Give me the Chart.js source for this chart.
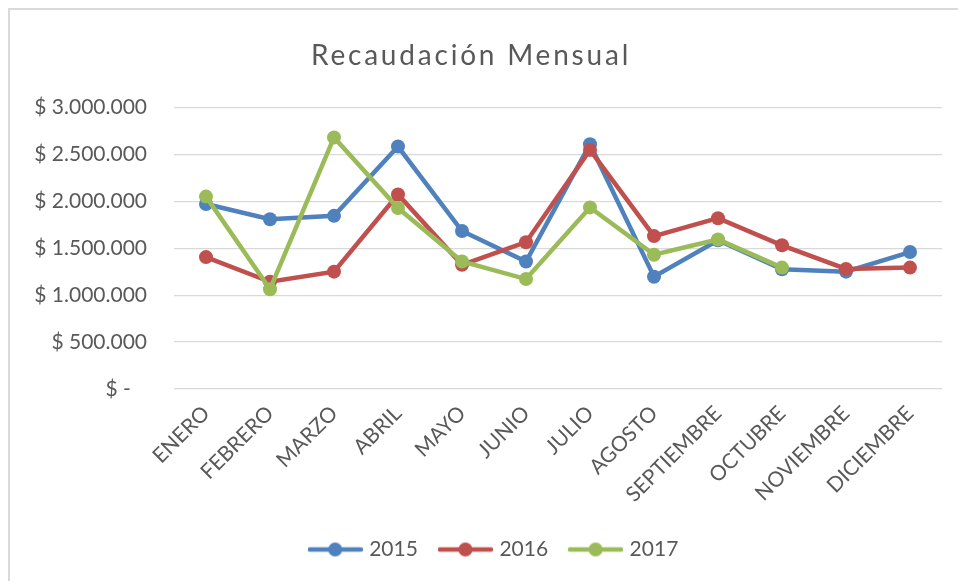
<!DOCTYPE html>
<html>
<head>
<meta charset="utf-8">
<script src="https://cdn.jsdelivr.net/npm/chart.js@4.4.1/dist/chart.umd.min.js"></script>
<style>
  html, body { margin: 0; padding: 0; background: #fff; }
  #wrap { width: 958px; height: 581px; position: relative; }
</style>
</head>
<body>
<div id="wrap"><canvas id="myChart"></canvas></div>
<script>
const meses = ['ENERO', 'FEBRERO', 'MARZO', 'ABRIL', 'MAYO', 'JUNIO', 'JULIO', 'AGOSTO', 'SEPTIEMBRE', 'OCTUBRE', 'NOVIEMBRE', 'DICIEMBRE'];
const rec2015 = [1972000, 1810000, 1846000, 2585000, 1684000, 1359000, 2610000, 1197000, 1586000, 1276000, 1251000, 1460000];
const rec2016 = [1406000, 1143000, 1251000, 2073000, 1324000, 1565000, 2549000, 1630000, 1821000, 1532000, 1280000, 1294000];
const rec2017 = [2051000, 1064000, 2682000, 1929000, 1359000, 1172000, 1936000, 1432000, 1594000, 1294000, null, null];
const yTicks = [0, 500000, 1000000, 1500000, 2000000, 2500000, 3000000];

const gris = '#595959';
const fuente = 'Lato, "Open Sans", sans-serif';

function pesos(v) {
  if (v === 0) return '$ -   ';
  return '$ ' + String(v).replace(/\B(?=(\d{3})+(?!\d))/g, '.');
}

// icono de leyenda: linea con punto, como en Excel
function icono(color) {
  const c = document.createElement('canvas');
  c.width = 55; c.height = 16;
  const g = c.getContext('2d');
  g.strokeStyle = color;
  g.lineWidth = 4.5;
  g.lineCap = 'round';
  g.beginPath(); g.moveTo(2, 8); g.lineTo(53, 8); g.stroke();
  g.fillStyle = color;
  g.beginPath(); g.arc(27.5, 8, 7, 0, Math.PI * 2); g.fill();
  return c;
}

const borde = {
  id: 'borde',
  beforeDraw(chart) {
    const c = chart.ctx;
    c.save();
    c.strokeStyle = '#d9d9d9';
    c.lineWidth = 2;
    c.strokeRect(9, 9, 1200, 1200);
    c.restore();
    // titulo espaciado como el original
    const t = chart.titleBlock;
    if (t && !t._espaciado) {
      const dibujar = t.draw.bind(t);
      t.draw = function () {
        chart.ctx.save();
        chart.ctx.letterSpacing = '2.8px';
        dibujar();
        chart.ctx.restore();
      };
      t._espaciado = true;
    }
  },
  afterLayout(chart) {
    // leyenda algo corrida a la derecha
    const l = chart.legend;
    l.left += 24;
    l.right += 24;
  }
};

const serie = (label, data, color, order) => ({
  label, data, order,
  borderColor: color,
  backgroundColor: color,
  borderWidth: 4.5,
  pointRadius: 7,
  pointHoverRadius: 7,
  pointBorderWidth: 0,
  tension: 0,
  spanGaps: false
});

const ctx = document.getElementById('myChart');

new Chart(ctx, {
  type: 'line',
  data: {
    labels: meses,
    datasets: [
      serie('2015', rec2015, '#4F81BD', 3),
      serie('2016', rec2016, '#C0504D', 2),
      serie('2017', rec2017, '#9BBB59', 1)
    ]
  },
  plugins: [borde],
  options: {
    responsive: true,
    maintainAspectRatio: false,
    animation: false,
    layout: { padding: { left: 0, right: 16, top: 0, bottom: 11 } },
    plugins: {
      title: {
        display: true,
        text: 'Recaudación Mensual',
        color: gris,
        font: { family: fuente, size: 28, weight: 'normal' },
        padding: { top: 39, bottom: 35 }
      },
      legend: {
        position: 'bottom',
        labels: {
          usePointStyle: true,
          pointStyleWidth: 47,
          boxHeight: 16,
          padding: 24,
          color: gris,
          font: { family: fuente, size: 21 },
          generateLabels(chart) {
            return chart.data.datasets.map((ds, i) => ({
              text: ds.label,
              fillStyle: ds.borderColor,
              strokeStyle: ds.borderColor,
              fontColor: gris,
              lineWidth: 0,
              pointStyle: icono(ds.borderColor),
              hidden: false,
              datasetIndex: i
            }));
          }
        }
      },
      tooltip: { enabled: false }
    },
    scales: {
      x: {
        offset: true,
        grid: { display: false, drawTicks: false, offset: true },
        border: { display: false },
        ticks: {
          color: gris,
          font: { family: fuente, size: 21 },
          minRotation: 45,
          maxRotation: 45,
          padding: 12,
          autoSkip: false
        },
        afterFit(scale) { scale.height = 126; }
      },
      y: {
        min: 0,
        max: 3000000,
        afterBuildTicks(scale) { scale.ticks = yTicks.map(v => ({ value: v })); },
        grid: { color: '#d9d9d9', lineWidth: 1.3, drawTicks: false },
        border: { display: false },
        ticks: {
          color: gris,
          font: { family: fuente, size: 21 },
          padding: 27,
          callback: v => pesos(v)
        },
        afterFit(scale) { scale.width = 174; }
      }
    }
  }
});
</script>
</body>
</html>
